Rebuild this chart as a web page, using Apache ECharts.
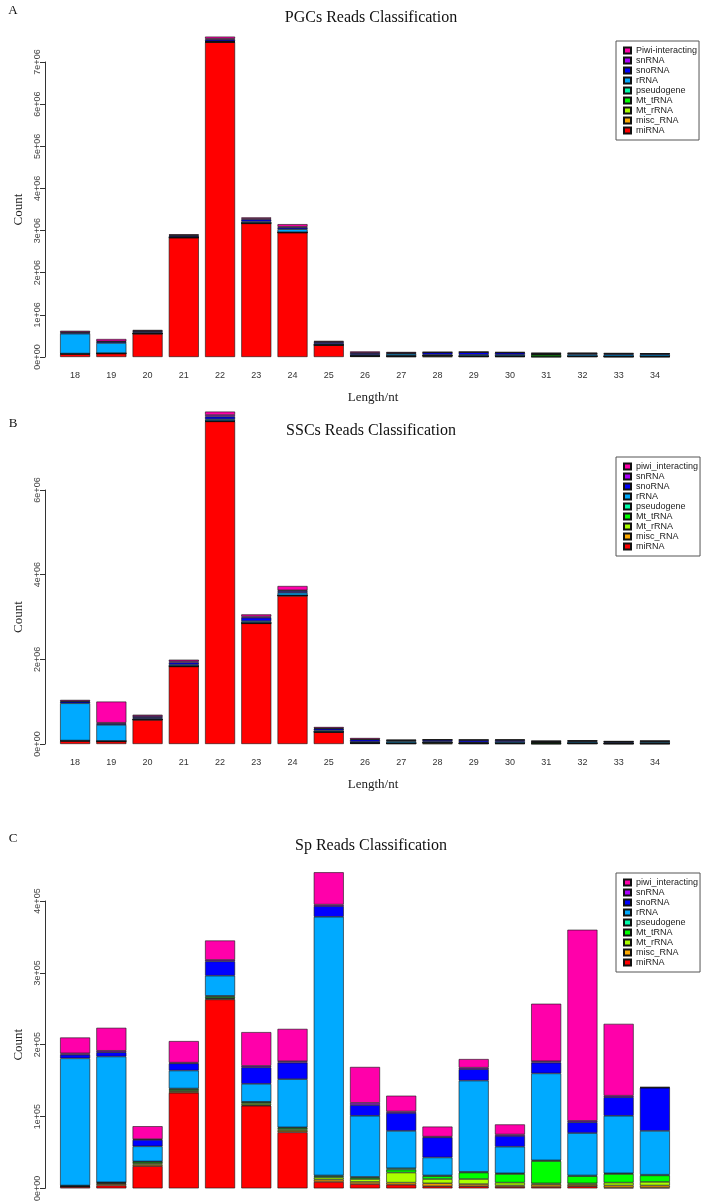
<!DOCTYPE html>
<html>
<head>
<meta charset="utf-8">
<script src="https://cdn.jsdelivr.net/npm/echarts@6/dist/echarts.min.js"></script>
<style>html,body{margin:0;padding:0;background:#fff;}#c{width:702px;height:1204px;}</style>
</head>
<body>
<div id="c"></div>
<script>
const lengths = ['18','19','20','21','22','23','24','25','26','27','28','29','30','31','32','33','34'];
const typeNames = ['miRNA','misc_RNA','Mt_rRNA','Mt_tRNA','pseudogene','rRNA','snoRNA','snRNA'];
const colors = ['#FF0000','#FFAA00','#AAFF00','#00FF00','#00FFAA','#00AAFF','#0000FF','#AA00FF','#FF00AA'];

// Panel A: PGCs
const pgcMiRNA  = [70000,80000,550000,2830000,7470000,3170000,2950000,280000,20000,10000,10000,10000,10000,5000,10000,5000,5000];
const pgcMisc   = [5000,5000,5000,5000,5000,5000,5000,5000,5000,5000,20000,5000,5000,5000,5000,5000,5000];
const pgcMtR    = [2000,2000,2000,2000,2000,2000,2000,2000,2000,5000,2000,2000,2000,2000,2000,2000,2000];
const pgcMtT    = [3000,3000,3000,3000,3000,3000,3000,3000,3000,10000,3000,3000,3000,40000,3000,3000,3000];
const pgcPseudo = [2000,2000,2000,2000,2000,2000,2000,2000,2000,5000,2000,2000,2000,2000,2000,2000,2000];
const pgcRRNA   = [470000,240000,20000,10000,10000,30000,70000,20000,20000,40000,20000,30000,30000,10000,40000,40000,40000];
const pgcSno    = [30000,30000,30000,30000,40000,50000,40000,40000,40000,20000,50000,60000,50000,20000,20000,20000,20000];
const pgcSn     = [10000,10000,10000,10000,20000,20000,20000,10000,10000,5000,5000,5000,5000,5000,5000,5000,3000];
const pgcPiwi   = [30000,55000,20000,20000,50000,30000,60000,20000,30000,20000,5000,5000,10000,5000,15000,10000,5000];

// Panel B: SSCs
const sscMiRNA  = [70000,60000,570000,1830000,7620000,2850000,3500000,280000,20000,10000,10000,10000,10000,5000,10000,5000,5000];
const sscMisc   = [5000,5000,5000,5000,5000,5000,5000,5000,5000,5000,20000,5000,5000,5000,5000,5000,5000];
const sscMtR    = [2000,2000,2000,2000,2000,2000,2000,2000,2000,2000,2000,2000,2000,2000,2000,2000,2000];
const sscMtT    = [3000,3000,3000,3000,3000,3000,3000,3000,3000,5000,3000,3000,3000,20000,3000,3000,3000];
const sscPseudo = [2000,2000,2000,2000,2000,2000,2000,2000,2000,2000,2000,2000,2000,2000,2000,2000,2000];
const sscRRNA   = [880000,380000,20000,30000,40000,40000,60000,30000,20000,40000,20000,20000,30000,10000,30000,20000,30000];
const sscSno    = [40000,30000,30000,50000,60000,80000,40000,40000,50000,20000,40000,50000,40000,20000,20000,20000,20000];
const sscSn     = [10000,20000,30000,30000,40000,30000,20000,10000,10000,5000,5000,5000,5000,3000,5000,3000,3000];
const sscPiwi   = [30000,500000,30000,40000,80000,50000,100000,30000,30000,10000,5000,5000,10000,5000,10000,5000,5000];

// Panel C: Sp
const spMiRNA  = [2000,4000,31000,133000,263000,115000,78000,9000,6000,5000,3000,3000,2000,2000,3000,1000,1000];
const spMisc   = [1000,2000,2000,2000,1000,1000,2000,3000,3000,3000,4000,3000,2000,3000,2000,3000,3000];
const spMtR    = [0,1000,2000,1000,1000,2000,2000,3000,4000,14000,6000,7000,4000,2000,2000,4000,5000];
const spMtT    = [500,1000,2000,2000,2000,2000,2000,2000,2000,4000,4000,9000,12000,31000,10000,12000,9000];
const spPseudo = [500,500,500,1000,1000,500,1000,1000,1000,2000,1000,1000,1000,1000,1000,1000,1000];
const spRRNA   = [177000,175000,21000,25000,28000,25000,67000,360000,85000,52000,25000,127000,37000,121000,59000,80000,61000];
const spSno    = [5000,6000,9000,10000,20000,23000,23000,15000,15000,25000,28000,16000,15000,15000,15000,26000,60000];
const spSn     = [2000,2000,1000,1000,2000,2000,2000,2000,3000,2000,1000,2000,2000,2000,2000,2000,500];
const spPiwi   = [22000,32000,18000,30000,27000,47000,45000,45000,50000,22000,14000,12000,14000,80000,266000,100000,500];

const panels = [
  {label:'A', title:'PGCs Reads Classification', piwi:'Piwi-interacting', top:62, height:295, max:7e6, interval:1e6, showX:true,
   data:[pgcMiRNA,pgcMisc,pgcMtR,pgcMtT,pgcPseudo,pgcRRNA,pgcSno,pgcSn,pgcPiwi], legendTop:41, titleY:18, labelY:11, xNameY:398},
  {label:'B', title:'SSCs Reads Classification', piwi:'piwi_interacting', top:490, height:254, max:6e6, interval:2e6, showX:true,
   data:[sscMiRNA,sscMisc,sscMtR,sscMtT,sscPseudo,sscRRNA,sscSno,sscSn,sscPiwi], legendTop:457, titleY:431, labelY:424, xNameY:785},
  {label:'C', title:'Sp Reads Classification', piwi:'piwi_interacting', top:901, height:288, max:4e5, interval:1e5, showX:false,
   data:[spMiRNA,spMisc,spMtR,spMtT,spPseudo,spRRNA,spSno,spSn,spPiwi], legendTop:873, titleY:846, labelY:839, xNameY:null}
];

function sci(v){
  if (v === 0) return '0e+00';
  const e = Math.floor(Math.log10(v) + 1e-9);
  const m = Math.round(v / Math.pow(10, e));
  return m + 'e+' + (e < 10 ? '0' + e : e);
}

const SANS = 'Liberation Sans, Arial, sans-serif';
const SERIF = 'Liberation Serif, Times New Roman, serif';
const GL = 57, GW = 616, TX = 371;
const grid = [], xAxis = [], yAxis = [], series = [], legend = [], graphic = [];
panels.forEach((p, i) => {
  grid.push({left:GL, width:GW, top:p.top, height:p.height});
  xAxis.push({type:'category', gridIndex:i, data:lengths,
    axisLine:{show:false}, axisTick:{show:false},
    axisLabel:{show:p.showX, fontSize:9, color:'#333', margin:14, fontFamily:SANS}});
  yAxis.push({type:'value', gridIndex:i, min:0, max:p.max, interval:p.interval, offset:12,
    axisLine:{show:true, lineStyle:{color:'#333', width:1}},
    axisTick:{show:true, length:5, lineStyle:{color:'#333'}},
    splitLine:{show:false},
    axisLabel:{rotate:90, fontSize:9, color:'#444', margin:3, fontFamily:SANS, formatter:sci},
    name:'Count', nameLocation:'middle', nameGap:17,
    nameTextStyle:{fontFamily:SERIF, fontSize:13, color:'#222'}});
  const names = typeNames.concat([p.piwi]);
  names.forEach((n, k) => {
    series.push({type:'bar', name:n, xAxisIndex:i, yAxisIndex:i, stack:'s' + i, data:p.data[k],
      barWidth:30, clip:false,
      itemStyle:{color:colors[k], borderColor:'#111', borderWidth:0.6},
      emphasis:{disabled:true}});
  });
  legend.push({orient:'vertical', left:616, top:p.legendTop, data:names.slice().reverse(),
    itemWidth:7, itemHeight:6, itemGap:1, icon:'rect',
    textStyle:{fontSize:9, fontFamily:SANS, color:'#222', lineHeight:8},
    borderColor:'#555', borderWidth:1, padding:[5,2,5,7], selectedMode:false});
  graphic.push({type:'text', style:{text:p.title, x:TX, y:p.titleY, textAlign:'center', textVerticalAlign:'middle',
    font:'16px ' + SERIF, fill:'#111'}});
  graphic.push({type:'text', style:{text:p.label, x:13, y:p.labelY, textAlign:'center', textVerticalAlign:'middle',
    font:'13px ' + SERIF, fill:'#111'}});
  if (p.xNameY) {
    graphic.push({type:'text', style:{text:'Length/nt', x:TX + 2, y:p.xNameY, textAlign:'center', textVerticalAlign:'middle',
      font:'13px ' + SERIF, fill:'#222'}});
  }
});

const chart = echarts.init(document.getElementById('c'), null, {renderer:'canvas'});
chart.setOption({animation:false, backgroundColor:'#fff', grid, xAxis, yAxis, series, legend, graphic});
</script>
</body>
</html>
